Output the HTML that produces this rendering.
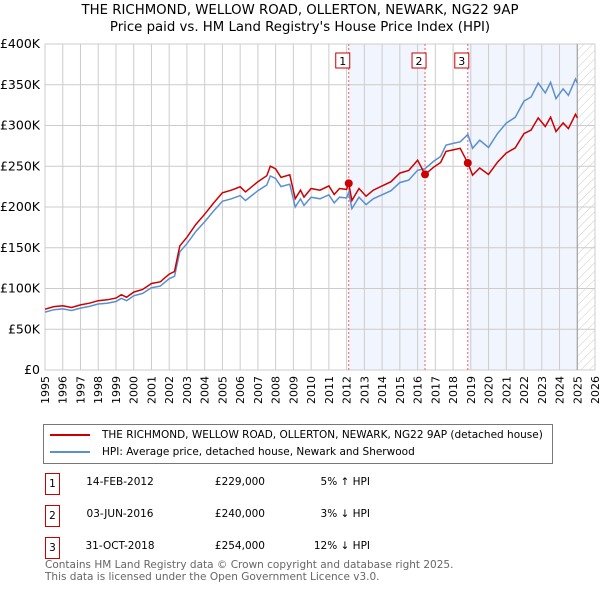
<!DOCTYPE html>
<html><head><meta charset="utf-8">
<style>
body{margin:0;background:#fff;font-family:"DejaVu Sans","Liberation Sans",sans-serif;}
#wrap{position:relative;width:600px;height:590px;overflow:hidden;}
svg text{font-family:"DejaVu Sans","Liberation Sans",sans-serif;}
</style></head><body>
<div id="wrap">
<svg id="chart" width="600" height="590">
<defs><pattern id="hatch" width="6" height="6" patternUnits="userSpaceOnUse" patternTransform="rotate(45)"><line x1="0" y1="0" x2="0" y2="6" stroke="#ccc" stroke-width="1"/></pattern></defs>
<text x="300" y="14" text-anchor="middle" font-size="13.3">THE RICHMOND, WELLOW ROAD, OLLERTON, NEWARK, NG22 9AP</text>
<text x="300" y="31" text-anchor="middle" font-size="13.3">Price paid vs. HM Land Registry's House Price Index (HPI)</text>
<g id="plot"></g>
</svg>
<div style="position:absolute;left:43px;top:424px;width:508px;height:38px;border:1px solid #777;font-size:10.5px;">
 <div style="position:absolute;left:6px;top:4px;white-space:nowrap"><span style="display:inline-block;width:40px;height:2px;background:#cc0000;vertical-align:middle;margin-right:12px"></span>THE RICHMOND, WELLOW ROAD, OLLERTON, NEWARK, NG22 9AP (detached house)</div>
 <div style="position:absolute;left:6px;top:21px;white-space:nowrap"><span style="display:inline-block;width:40px;height:2px;background:#5b8fd0;vertical-align:middle;margin-right:12px"></span>HPI: Average price, detached house, Newark and Sherwood</div>
</div>
<div id="table" style="font-size:10.5px;"></div>
<div style="position:absolute;left:45px;top:559px;font-size:10.5px;color:#666;line-height:12px">Contains HM Land Registry data © Crown copyright and database right 2025.<br>This data is licensed under the Open Government Licence v3.0.</div>
</div>
<script>
const hpiYears=[1995.0,1995.5,1996.0,1996.5,1997.0,1997.5,1998.0,1998.5,1999.0,1999.3,1999.6,2000.0,2000.5,2001.0,2001.5,2002.0,2002.3,2002.6,2003.0,2003.5,2004.0,2004.5,2005.0,2005.5,2006.0,2006.3,2007.0,2007.5,2007.7,2008.0,2008.3,2008.8,2009.1,2009.4,2009.6,2010.0,2010.5,2011.0,2011.3,2011.6,2012.0,2012.12,2012.3,2012.7,2013.1,2013.5,2014.0,2014.5,2015.0,2015.5,2016.0,2016.42,2016.9,2017.3,2017.6,2018.0,2018.4,2018.83,2019.1,2019.5,2020.0,2020.5,2021.0,2021.5,2022.0,2022.4,2022.8,2023.2,2023.5,2023.8,2024.2,2024.5,2024.9,2025.0];
const hpiValues=[71,74,75,73,76,78,81,82,84,88,85,91,94,101,103,112,115,145,155,170,182,195,207,210,214,208,220,227,238,235,225,228,200,210,202,212,210,215,205,212,211,218,198,212,203,210,215,220,230,233,245,247,256,262,276,278,280,289,272,282,273,290,303,310,330,335,352,340,353,333,345,337,357,352];
const saleLabels=["1","2","3"];
const saleYears=[2012.12,2016.42,2018.83];
const salePrices=[229,240,254];
const saleDates=["14-FEB-2012","03-JUN-2016","31-OCT-2018"];
const salePriceText=["£229,000","£240,000","£254,000"];
const saleHpiText=["5% ↑ HPI","3% ↓ HPI","12% ↓ HPI"];
const yTicks=[0,50,100,150,200,250,300,350,400];
const yTickLabels=["£0","£50K","£100K","£150K","£200K","£250K","£300K","£350K","£400K"];
const xStart=1995,xEnd=2026,dataEnd=2025.0;

const X0=45,X1=595,Y0=370,Y1=44;
const xs=y=>X0+(y-xStart)/(xEnd-xStart)*(X1-X0);
const ys=v=>Y0-v/400*(Y0-Y1);
const NS="http://www.w3.org/2000/svg";
const g=document.getElementById('plot');
function mk(t,a){const e=document.createElementNS(NS,t);for(const k in a)e.setAttribute(k,a[k]);g.appendChild(e);return e;}
function hpiAt(y){for(let i=1;i<hpiYears.length;i++){if(y<=hpiYears[i]){const t=(y-hpiYears[i-1])/(hpiYears[i]-hpiYears[i-1]);return hpiValues[i-1]+t*(hpiValues[i]-hpiValues[i-1]);}}return hpiValues[hpiValues.length-1];}
let e;
e=mk('rect',{x:xs(saleYears[0]),y:Y1,width:xs(saleYears[1])-xs(saleYears[0]),height:Y0-Y1,fill:'#eef2fc',opacity:0.8});

e=mk('rect',{x:xs(saleYears[2]),y:Y1,width:xs(dataEnd)-xs(saleYears[2]),height:Y0-Y1,fill:'#eef2fc',opacity:0.8});

e=mk('rect',{x:xs(dataEnd),y:Y1,width:X1-xs(dataEnd),height:Y0-Y1,fill:'url(#hatch)'});

yTicks.forEach((v,i)=>{
 e=mk('line',{x1:X0,x2:X1,y1:ys(v),y2:ys(v),stroke:'#ccc','stroke-width':1});
 
 e=mk('text',{x:X0-5,y:ys(v)+4,'text-anchor':'end','font-size':12.5});e.textContent=yTickLabels[i];
 
});
for(let yr=xStart;yr<=xEnd;yr++){
 e=mk('line',{x1:xs(yr),x2:xs(yr),y1:Y1,y2:Y0,stroke:'#ccc','stroke-width':1});
 
 e=mk('text',{x:0,y:0,'text-anchor':'end','font-size':11,transform:`translate(${xs(yr)+4},${Y0+6}) rotate(-90)`});e.textContent=yr;
 
}
e=mk('line',{x1:xs(dataEnd),x2:xs(dataEnd),y1:Y1,y2:Y0,stroke:'#999','stroke-width':1});

saleYears.forEach((sy,i)=>{
 e=mk('line',{x1:xs(sy),x2:xs(sy),y1:Y1,y2:Y0,stroke:'#f06060','stroke-width':1,'stroke-dasharray':'2,2'});
 
 e=mk('rect',{x:xs(sy)-13,y:53,width:14,height:15,fill:'#fff',stroke:'#cc0000'});
 
 e=mk('text',{x:xs(sy)-6,y:65,'text-anchor':'middle','font-size':11});e.textContent=saleLabels[i];
 
});
let d='';hpiYears.forEach((y,i)=>{d+=(i?'L':'M')+xs(y).toFixed(1)+','+ys(hpiValues[i]).toFixed(1);});
e=mk('path',{d:d,fill:'none',stroke:'#5b8fd0','stroke-width':1.5});

function anchor(y){let k=0;for(let i=0;i<saleYears.length;i++)if(y>=saleYears[i])k=i;return k;}
let pd='';const pts=hpiYears.slice();saleYears.forEach(s=>pts.push(s,s+0.0001));pts.sort((a,b)=>a-b);
pts.forEach((y,i)=>{const k=anchor(y);const v=salePrices[k]*hpiAt(y)/hpiAt(saleYears[k]);pd+=(i?'L':'M')+xs(y).toFixed(1)+','+ys(v).toFixed(1);});
e=mk('path',{d:pd,fill:'none',stroke:'#cc0000','stroke-width':1.5});

saleYears.forEach((sy,i)=>{
 e=mk('circle',{cx:xs(sy),cy:ys(salePrices[i]),r:4,fill:'#cc0000'});
 
});
const tb=document.getElementById('table');
saleLabels.forEach((l,i)=>{
 const top=472+i*32;
 const row=document.createElement('div');
 
 
 row.style.cssText=`position:absolute;left:0;top:${top}px;width:600px;height:24px;`;
 row.innerHTML=`<div style="position:absolute;left:45px;top:1px;width:13px;height:20px;border:1px solid #cc0000;text-align:center;line-height:20px">${l}</div>
 <div style="position:absolute;left:80px;top:4px;width:80px;text-align:center">${saleDates[i]}</div>
 <div style="position:absolute;left:180px;top:4px;width:85px;text-align:right">${salePriceText[i]}</div>
 <div style="position:absolute;left:280px;top:4px;width:90px;text-align:right">${saleHpiText[i]}</div>`;
 tb.appendChild(row);
});
</script>
</body></html>
